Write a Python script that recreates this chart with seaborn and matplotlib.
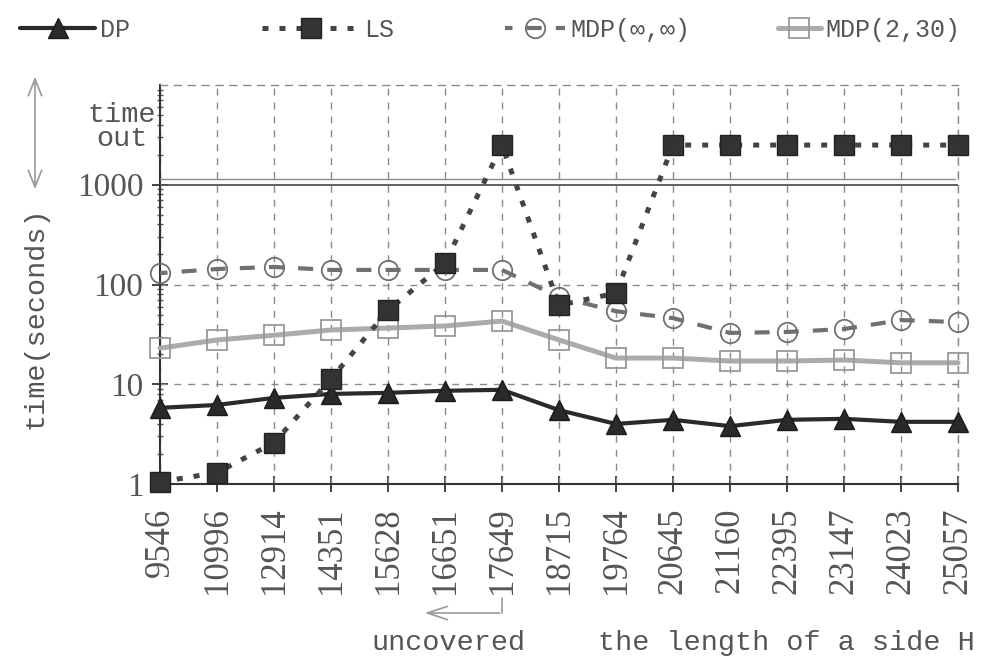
import numpy as np
import pandas as pd
import matplotlib
matplotlib.use("Agg")
import matplotlib.pyplot as plt
from matplotlib.lines import Line2D
from matplotlib.ticker import LogLocator, NullFormatter, FixedLocator
import seaborn as sns

# Side length H of each test instance
sides = ["9546", "10996", "12914", "14351", "15628", "16651", "17649", "18715",
         "19764", "20645", "21160", "22395", "23147", "24023", "25057"]

# Running times in seconds (2500 = time out)
dp = [5.8, 6.2, 7.3, 8.0, 8.2, 8.6, 8.8, 5.5, 4.0, 4.4, 3.8, 4.4, 4.5, 4.2, 4.2]
ls = [1.05, 1.3, 2.6, 11.3, 55, 164, 2500, 62, 82, 2500, 2500, 2500, 2500, 2500, 2500]
mdp_inf = [130, 143, 150, 140, 140, 140, 140, 75, 54, 46, 32.7, 33.4, 35.8, 44, 42]
mdp_2_30 = [23, 27.8, 31, 35, 36.6, 38.4, 43, 27.8, 18.3, 18.3, 17.1, 17.1, 17.5, 16.4, 16.4]

series_names = ["DP", "LS", "MDP(\u221e,\u221e)", "MDP(2,30)"]
timeout_band = [1000, 1150]
yticks = [1, 10, 100, 1000]

df = pd.DataFrame({
    "pos": np.tile(np.arange(len(sides)), 4),
    "time": dp + ls + mdp_inf + mdp_2_30,
    "method": np.repeat(series_names, len(sides)),
})

sns.set_theme(style="white")
MONO = ["Liberation Mono", "DejaVu Sans Mono", "DejaVu Sans"]
SERIF = ["Liberation Serif", "DejaVu Serif"]
plt.rcParams["font.family"] = MONO
TXT = "#555555"

fig = plt.figure(figsize=(9.96, 6.64), dpi=100)
ax = fig.add_axes([160 / 996, 1 - 484 / 664, 798 / 996, 399 / 664])

styles = {
    "DP": dict(color="#2a2a2a", lw=3.0, ls="-", marker="^", ms=14,
               mfc="#2a2a2a", mec="#1a1a1a", zorder=6),
    "LS": dict(color="#444444", lw=3.6, ls=(0, (1.2, 2.2)), marker="s", ms=14,
               mfc="#333333", mec="#222222", zorder=7),
    "MDP(\u221e,\u221e)": dict(color="#707070", lw=3.0, ls=(1.8, (3.6, 3.4)), marker="o", ms=14,
                               mfc="none", mec="#707070", mew=1.3, zorder=5),
    "MDP(2,30)": dict(color="#ababab", lw=3.6, ls="-", marker="s", ms=14,
                      mfc="none", mec="#999999", mew=1.3, zorder=4),
}

for name in series_names:
    st = styles[name]
    sub = df[df["method"] == name]
    sns.lineplot(data=sub, x="pos", y="time", ax=ax, color=st["color"],
                 linewidth=st["lw"], linestyle=st["ls"], marker=st["marker"],
                 markersize=st["ms"], markerfacecolor=st["mfc"],
                 markeredgecolor=st["mec"], markeredgewidth=st.get("mew", 1.0),
                 zorder=st["zorder"], clip_on=False, legend=False,
                 estimator=None, sort=False)

ax.set_yscale("log")
ax.set_ylim(1, 10000)
ax.set_xlim(0, len(sides) - 1)

# time-out band lines
ax.axhline(timeout_band[0], color="#555555", lw=1.3, zorder=3)
ax.plot([0, len(sides) - 1.05], [timeout_band[1]] * 2, color="#8a8a8a", lw=1.0, zorder=3)

# grid
for i in range(len(sides)):
    ax.axvline(i, color="#8a8a8a", lw=1.0, ls=(0, (5, 5)), zorder=1)
for yv in [10, 100]:
    ax.axhline(yv, color="#8a8a8a", lw=1.0, ls=(0, (5, 5)), zorder=1)

# spines
for s in ["top", "right"]:
    ax.spines[s].set_linestyle((0, (5, 5)))
    ax.spines[s].set_color("#8a8a8a")
    ax.spines[s].set_linewidth(1.0)
for s in ["left", "bottom"]:
    ax.spines[s].set_color("#333333")
    ax.spines[s].set_linewidth(1.5)

ax.xaxis.set_major_locator(FixedLocator(range(len(sides))))
ax.set_xticklabels(sides, rotation=90, fontsize=25, color=TXT, family=SERIF)
ax.yaxis.set_major_locator(FixedLocator(yticks))
ax.set_yticklabels([str(v) for v in yticks], fontsize=24, color=TXT, family=SERIF)
ax.yaxis.set_minor_locator(LogLocator(base=10, subs=np.arange(2, 10)))
ax.yaxis.set_minor_formatter(NullFormatter())
ax.tick_params(axis="x", which="major", direction="inout", length=12, width=1.3,
               color="#333333", pad=11, bottom=True)
ax.tick_params(axis="y", which="major", direction="inout", length=12, width=1.3,
               color="#333333", pad=6, left=True)
ax.tick_params(axis="y", which="minor", direction="inout", length=4, width=1.0,
               color="#555555", left=True)

ax.set_xlabel("")
ax.set_ylabel("time(seconds)", fontsize=20.5, color=TXT, family=MONO)
ax.yaxis.label.set_va("center")
ax.yaxis.set_label_coords((35 - 160) / 798, (484 - 318) / 399)

# time-out marker on the left
fig.text(122 / 996, 1 - 127 / 664, "time\nout", ha="center", va="center",
         fontsize=20.5, color=TXT, family=MONO, linespacing=0.95)
ax.annotate("", xy=(35 / 996, 1 - 74 / 664), xytext=(35 / 996, 1 - 192 / 664),
            xycoords="figure fraction", textcoords="figure fraction",
            arrowprops=dict(arrowstyle="<->,head_length=1.0,head_width=0.4",
                            color="#999999", lw=1.2))

# uncovered region marker
fig.add_artist(Line2D([502 / 996, 502 / 996], [1 - 598 / 664, 1 - 613 / 664],
                      transform=fig.transFigure, color="#999999", lw=1.2))
ax.annotate("", xy=(422 / 996, 1 - 613 / 664), xytext=(502.5 / 996, 1 - 613 / 664),
            xycoords="figure fraction", textcoords="figure fraction",
            arrowprops=dict(arrowstyle="->,head_length=1.2,head_width=0.4",
                            color="#999999", lw=1.2))
fig.text(448 / 996, 1 - 643 / 664, "uncovered", ha="center", va="center",
         fontsize=20.5, color=TXT, family=MONO)
fig.text(975 / 996, 1 - 643 / 664, "the length of a side H", ha="right", va="center",
         fontsize=20.5, color=TXT, family=MONO)

# legend entries, each with its own handle length
legend_x = [20, 262, 505, 778]
legend_hlen = [3.0, 3.9, 2.4, 1.7]
for name, x0, hl in zip(series_names, legend_x, legend_hlen):
    st = styles[name]
    h = Line2D([], [], color=st["color"], lw=st["lw"], ls=st["ls"],
               marker=st["marker"], ms=st["ms"], mfc=st["mfc"],
               mec=st["mec"], mew=st.get("mew", 1.0))
    leg = fig.legend([h], [name], loc="center left",
                     bbox_to_anchor=(x0 / 996, 1 - 30 / 664), frameon=False,
                     handlelength=hl, handletextpad=0.2, borderpad=0,
                     borderaxespad=0, labelcolor=TXT,
                     prop=dict(family=MONO, size=18))

fig.savefig("out.png", dpi=100)
